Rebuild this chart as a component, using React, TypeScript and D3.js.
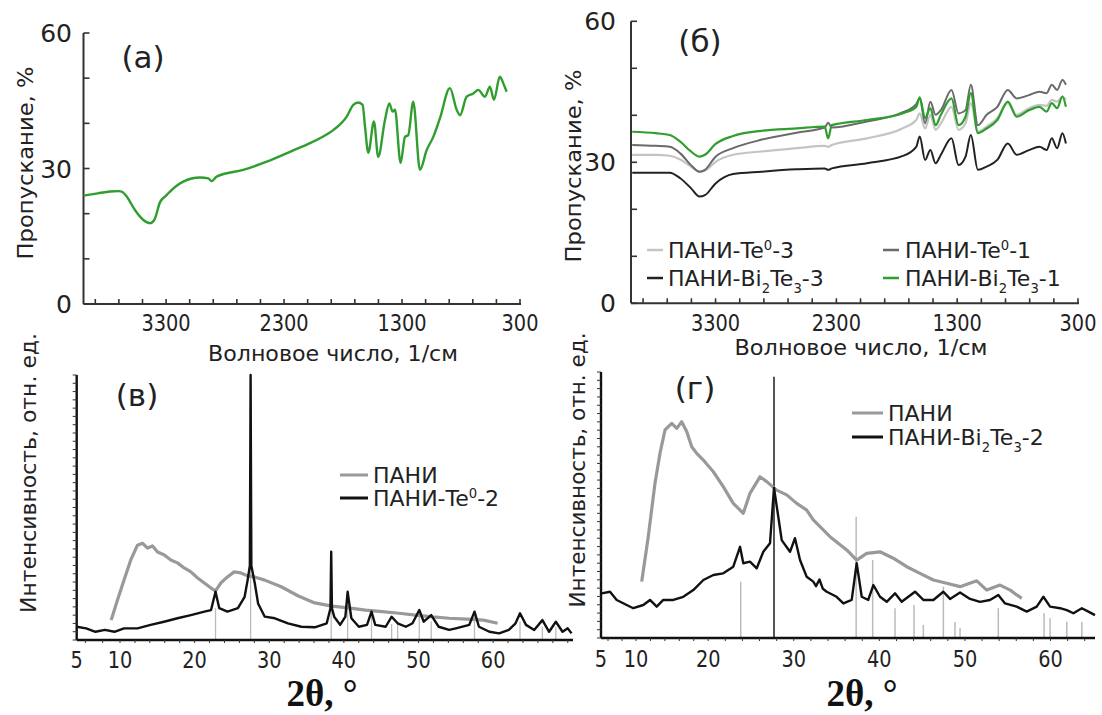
import React from "react";
import * as d3 from "d3";

// ---------------- data: panel (а) ----------------
const waveA = [4000,3880,3775,3700,3676,3634,3564,3493,3436,3400,3352,3300,3267,3154,3013,2942,2914,2871,2646,2447,2222,2080,1996,1883,1769,1713,1671,1634,1614,1586,1538,1502,1445,1408,1380,1360,1312,1275,1247,1205,1148,1091,1035,979,894,837,809,752,696,654,597,555,521,471,436,413];
const transPani = [24.0,24.5,24.9,25.0,24.9,23.8,20.8,18.6,17.9,18.6,22.5,24.0,24.9,27.1,28.0,27.8,27.2,28.2,29.7,31.5,34.0,35.6,36.7,38.5,41.5,44.1,44.6,44.1,39.3,33.5,40.4,32.6,40.7,44.4,42.6,43.0,31.2,37.0,37.4,44.8,29.7,34.1,37.0,41.1,47.8,43.0,41.8,45.9,46.6,47.4,45.9,48.1,45.2,50.3,48.5,47.0];

// ---------------- data: panel (б) ----------------
const waveB = [3990,3796,3679,3592,3504,3432,3388,3300,3155,2921,2630,2397,2368,2338,2047,1755,1639,1610,1566,1522,1479,1435,1347,1289,1231,1187,1129,1056,968,881,808,706,618,560,517,473,429,400];
const transTe3 = [31.6,31.6,31.4,30.6,29.1,28.0,28.2,30.1,31.6,32.3,33.0,33.5,33.3,33.7,35.1,37.2,39.0,40.4,37.2,40.1,36.9,38.3,41.8,36.9,38.3,42.6,36.5,37.6,39.4,42.6,40.1,41.5,42.2,42.0,43.3,42.9,44.0,43.3];
const transTe1 = [33.7,33.5,33.3,31.9,29.4,28.0,28.4,31.2,33.0,34.8,36.3,37.4,38.4,37.4,38.7,40.6,42.4,43.6,38.3,42.9,40.1,41.1,45.4,40.4,41.1,46.5,37.9,40.1,41.8,45.4,43.6,44.3,45.0,44.7,46.5,45.4,47.5,46.5];
const transBi3 = [27.8,27.8,27.8,26.6,24.5,22.7,23.0,25.5,27.5,28.0,28.5,28.7,28.4,28.7,29.8,31.3,33.3,35.5,30.5,32.6,29.8,31.6,35.1,29.4,31.2,35.8,28.4,29.1,30.5,34.0,31.6,32.6,33.3,32.6,35.1,33.0,36.2,34.0];
const transBi1 = [36.5,36.2,35.8,34.4,32.3,31.2,31.6,33.9,35.6,36.7,37.2,37.6,35.1,37.9,39.0,40.4,41.8,43.8,39.4,41.5,37.9,40.1,43.6,37.9,39.7,44.7,36.2,37.2,39.0,42.9,39.7,41.1,41.8,40.8,42.6,41.5,44.0,41.8];

const wnTicks = [3300, 2300, 1300, 300];
const transTicks = [0, 30, 60];

// ---------------- data: panel (в) ----------------
const thetaPaniV = [8.98,9.71,10.54,11.44,12.34,13.02,13.69,14.36,15.04,15.94,16.8,17.7,18.6,19.5,20.4,21.3,22.2,22.8,23.5,24.4,25.3,26.2,27.1,28.0,29.4,31.6,33.9,36.1,38.4,40.6,42.9,45.1,47.4,49.6,51.9,54.1,56.5,58.7,60.6];
const intPaniV = [7.5,15.1,22.6,30.2,35.8,36.5,34.7,35.5,33.2,32.1,30.2,29.1,27.2,25.7,23.4,21.5,19.6,18.5,21.5,23.8,25.7,25.3,24.2,23.8,22.6,20.1,16.6,14.0,12.8,12.1,11.3,10.7,10.1,9.4,8.7,8.2,7.9,7.5,6.3];
const thetaTeV = [5,6.09,7.17,8.26,9.35,10.54,12.34,14.1,15.9,17.7,19.5,21.3,22.2,22.8,23.3,24.4,25.8,26.7,27.1,27.4,27.5,27.6,28.06,28.5,29.4,30.75,32.5,34.3,36.1,37.7,38.2,38.3,38.4,38.7,39.5,40.2,40.5,41.0,42.0,43.1,43.7,44.2,45.6,46.4,47.2,48.3,49.2,50.1,50.7,51.7,52.7,54.1,55.0,56.8,57.5,58.1,59.5,60.8,62.1,63.0,63.6,64.4,65.5,66.6,67.5,68.4,69.3,70.0,70.5];
const intTeV = [5.0,4.4,3.1,3.8,3.1,4.4,4.4,5.7,6.9,8.2,9.4,10.7,11.3,18.2,12.0,10.7,12.0,16.3,22.6,28,100,28,21.4,13.8,8.8,8.2,6.3,5.0,4.8,6.3,12,33.3,12,8.8,5.7,8.8,18.2,8.2,5.0,5.7,10.7,5.7,5.0,8.8,6.3,5.0,6.3,11.3,6.9,9.4,5.0,3.8,4.4,5.7,10.7,5.0,3.1,2.5,3.8,6.3,10.1,5.7,3.8,7.5,3.1,6.9,3.1,4.4,2.5];
const stickThetaV = [22.8,27.5,38.3,40.5,43.7,46.4,47.2,50.1,51.7,57.5,63.6,66.6,68.4];
const stickIntV = [12,98,30,14,9,6,6,9,7,9,7,5,5];

// ---------------- data: panel (г) ----------------
const thetaPaniG = [10.79,11.70,12.63,13.32,14.02,14.95,15.64,16.33,17.02,17.72,18.41,19.32,20.60,21.76,22.93,24.10,24.88,26.05,26.84,28.0,29.17,30.34,31.51,32.28,34.23,36.19,37.35,38.52,40.08,41.63,43.20,44.75,46.31,47.87,49.43,51.38,52.55,54.1,55.3,56.05,56.64];
const intPaniG = [21.2,38.1,58.2,69.4,78.2,80.7,78.8,81.3,77.6,71.9,69.4,66.9,62.5,56.9,50.6,46.9,54.4,60.6,58.8,55.6,53.8,50.6,48.1,44.4,38.1,33.1,29.3,31.8,32.4,30.0,26.8,24.3,21.8,20.6,19.3,21.5,18.0,19.9,18.0,16.2,14.9];
const thetaBiG = [5.1,6.29,7.24,8.67,9.61,11.01,11.94,12.87,13.78,15.17,16.55,17.94,19.33,20.6,21.76,22.93,23.72,24.1,24.88,25.67,26.44,27.22,27.69,28.19,28.59,29.56,30.14,30.73,31.51,32.28,32.6,33.0,33.4,33.85,35.0,35.8,36.77,37.35,37.94,38.7,39.3,40.08,40.86,41.83,42.61,44.17,45.14,46.31,47.48,48.26,49.43,50.6,51.76,52.93,53.9,54.69,56.05,57.22,58.39,59.17,59.95,61.12,61.9,62.68,63.66,64.43,65.2];
const intBiG = [16.8,17.4,14.3,12.4,11.2,12.4,14.3,11.8,14.3,14.3,15.5,18.0,21.8,23.7,24.3,26.8,34.3,28.1,28.7,26.2,32.4,35.6,56.4,45.6,36.8,32.4,37.5,29.3,23.0,21.2,19.5,22.0,18.5,17.4,15.5,13.0,14.3,28.1,15.5,14.3,19.9,15.5,13.6,16.8,13.6,17.4,14.3,14.3,17.4,14.7,17.1,14.7,13.6,14.3,16.2,13.0,11.8,9.9,11.8,15.5,11.8,11.2,10.5,9.3,11.2,9.9,8.6];
const stickThetaG = [23.8,27.69,37.29,39.22,41.83,44.05,45.14,47.48,48.84,49.43,53.9,59.25,59.95,61.9,63.66];
const stickIntG = [21.2,98.2,45.6,29.3,11.2,12.4,4.9,19.3,6.0,3.8,11.2,9.3,7.4,6.1,6.1];

const thetaTicks = [5, 10, 20, 30, 40, 50, 60];

// ---------------- styling ----------------
const FONT = "'DejaVu Sans', Verdana, sans-serif";
const SERIF = "'Liberation Serif', 'Times New Roman', serif";
const INK = "#222";
const AX = "#333";
const GREEN = "#2f9e2f";

type Part = { t: string; sub?: boolean; sup?: boolean };

function Rich({ parts, x, y, size }: { parts: Part[]; x: number; y: number; size: number }) {
  let shift = 0;
  const small = size * 0.6;
  return (
    <text x={x} y={y + size * 0.36} fontSize={size} fontFamily={FONT} fill={INK}>
      {parts.map((p, i) => {
        const target = p.sub ? size * 0.3 : p.sup ? -size * 0.38 : 0;
        const dy = target - shift;
        shift = target;
        return (
          <tspan key={i} dy={dy} fontSize={p.sub || p.sup ? small : size}>
            {p.t}
          </tspan>
        );
      })}
    </text>
  );
}

function VText({ cx, cy, size, len, children }: any) {
  return (
    <text transform={`translate(${cx},${cy}) rotate(-90)`} y={size * 0.36} textAnchor="middle"
      fontSize={size} fontFamily={FONT} fill={INK} textLength={len} lengthAdjust="spacingAndGlyphs">
      {children}
    </text>
  );
}

function IrAxes({ x, y, labelRight, xLabelY }: any) {
  const r = x.range();
  const x0 = r[0];
  const x1 = r[r.length - 1];
  const y0 = y(0);
  const minor = d3.range(3900, 299, -200);
  return (
    <g>
      <line x1={x0} y1={y(60)} x2={x0} y2={y0} stroke={AX} strokeWidth={2} />
      <line x1={x0} y1={y0} x2={x1 + 1} y2={y0} stroke={AX} strokeWidth={2} />
      {d3.range(0, 61, 10).map((v) => (
        <line key={"yt" + v} x1={x0} x2={x0 + 6} y1={y(v)} y2={y(v)} stroke={AX} strokeWidth={1.6} />
      ))}
      {minor.map((w) => (
        <line key={"xt" + w} x1={x(w)} x2={x(w)} y1={y0} y2={y0 - 5} stroke={AX} strokeWidth={1.6} />
      ))}
      {transTicks.map((v) => (
        <text key={"yl" + v} x={labelRight} y={y(v) + 9} textAnchor="end" fontSize={25} fontFamily={FONT} fill={INK}>
          {v}
        </text>
      ))}
      {wnTicks.map((w) => (
        <text key={"xl" + w} x={x(w)} y={xLabelY + 8} textAnchor="middle" fontSize={23} fontFamily={FONT} fill={INK}
          textLength={String(w).length * 12.3} lengthAdjust="spacingAndGlyphs">
          {w}
        </text>
      ))}
    </g>
  );
}

function XrdAxes({ x, y, labelY }: any) {
  const r = x.range();
  const x0 = r[0];
  const x1 = r[r.length - 1];
  const y0 = y(0);
  const yTop = y(100);
  const dom = x.domain();
  const xt = d3.range(6, dom[dom.length - 1], 2);
  return (
    <g>
      <line x1={x0} y1={yTop} x2={x0} y2={y0} stroke="#111" strokeWidth={2.4} />
      <line x1={x0} y1={y0} x2={x1} y2={y0} stroke="#111" strokeWidth={2.6} />
      {d3.range(0, 100.01, 100 / 32).map((v, i) => (
        <line key={"yt" + i} x1={x0 - 4} x2={x0} y1={y(v)} y2={y(v)} stroke="#333" strokeWidth={1} />
      ))}
      {xt.map((v) => (
        <line key={"xt" + v} x1={x(v)} x2={x(v)} y1={y0} y2={y0 + 3} stroke="#333" strokeWidth={1} />
      ))}
      {thetaTicks.map((v) => (
        <text key={"xl" + v} x={x(v)} y={labelY + 8} textAnchor="middle" fontSize={23} fontFamily={FONT} fill={INK}
          textLength={String(v).length * 12.3} lengthAdjust="spacingAndGlyphs">
          {v}
        </text>
      ))}
    </g>
  );
}

export default function App() {
  const xA = d3.scaleLinear().domain([4000, 300]).range([83.5, 520]);
  const yA = d3.scaleLinear().domain([0, 60]).range([304, 33]);
  const xB = d3.scaleLinear().domain([4000, 300]).range([631, 1078]);
  const yB = d3.scaleLinear().domain([0, 60]).range([303.3, 21.3]);
  const xV = d3.scaleLinear().domain([5, 10, 70.7]).range([76.7, 120, 573]);
  const yV = d3.scaleLinear().domain([0, 100]).range([640, 375]);
  const xG = d3.scaleLinear().domain([5, 10, 20, 65.2]).range([601, 636, 708.2, 1095]);
  const yG = d3.scaleLinear().domain([0, 100]).range([638, 372]);

  const irPath = (xs: number[], ys: number[], sx: any, sy: any) =>
    d3.line<number>().x((_, i) => sx(xs[i])).y((d) => sy(d)).curve(d3.curveMonotoneX)(ys) || "";
  const linPath = (xs: number[], ys: number[], sx: any, sy: any) =>
    d3.line<number>().x((_, i) => sx(xs[i])).y((d) => sy(d))(ys) || "";

  const bSeries = [
    { v: transBi3, c: "#222", w: 2 },
    { v: transTe3, c: "#c4c4c4", w: 2.2 },
    { v: transTe1, c: "#6a6a6a", w: 2 },
    { v: transBi1, c: GREEN, w: 2.2 },
  ];

  return (
    <svg width={1102} height={715} style={{ position: "absolute", left: 0, top: 0, background: "#fff" }}
      fontFamily={FONT}>
      <rect width={1102} height={715} fill="#fff" />

      {/* ---------- panel (а) ---------- */}
      <IrAxes x={xA} y={yA} labelRight={72} xLabelY={323} />
      <path d={irPath(waveA, transPani, xA, yA)} fill="none" stroke={GREEN} strokeWidth={2.4} />
      <text x={143} y={68} textAnchor="middle" fontSize={31} fill={INK}>(а)</text>
      <VText cx={25} cy={163} size={22} len={193}>Пропускание, %</VText>
      <text x={333} y={361} textAnchor="middle" fontSize={21} fill={INK} textLength={250} lengthAdjust="spacingAndGlyphs">
        Волновое число, 1/см
      </text>

      {/* ---------- panel (б) ---------- */}
      <IrAxes x={xB} y={yB} labelRight={616} xLabelY={323} />
      {bSeries.map((s, i) => (
        <path key={i} d={irPath(waveB, s.v, xB, yB)} fill="none" stroke={s.c} strokeWidth={s.w} />
      ))}
      <text x={700} y={52} textAnchor="middle" fontSize={31} fill={INK}>(б)</text>
      <VText cx={573} cy={166} size={22} len={193}>Пропускание, %</VText>
      <text x={861} y={355} textAnchor="middle" fontSize={21} fill={INK} textLength={253} lengthAdjust="spacingAndGlyphs">
        Волновое число, 1/см
      </text>
      {/* legend (б) */}
      <line x1={647} x2={663} y1={250} y2={250} stroke="#c4c4c4" strokeWidth={2.5} />
      <Rich x={668} y={250} size={22} parts={[{ t: "ПАНИ-Te" }, { t: "0", sup: true }, { t: "-3" }]} />
      <line x1={647} x2={663} y1={278} y2={278} stroke="#222" strokeWidth={2.5} />
      <Rich x={668} y={278} size={22} parts={[{ t: "ПАНИ-Bi" }, { t: "2", sub: true }, { t: "Te" }, { t: "3", sub: true }, { t: "-3" }]} />
      <line x1={883} x2={899} y1={250} y2={250} stroke="#6a6a6a" strokeWidth={2.5} />
      <Rich x={905} y={250} size={22} parts={[{ t: "ПАНИ-Te" }, { t: "0", sup: true }, { t: "-1" }]} />
      <line x1={883} x2={899} y1={278} y2={278} stroke={GREEN} strokeWidth={2.5} />
      <Rich x={905} y={278} size={22} parts={[{ t: "ПАНИ-Bi" }, { t: "2", sub: true }, { t: "Te" }, { t: "3", sub: true }, { t: "-1" }]} />

      {/* ---------- panel (в) ---------- */}
      {stickThetaV.map((t, i) => (
        <line key={"sv" + i} x1={xV(t)} x2={xV(t)} y1={yV(0)} y2={yV(stickIntV[i])} stroke="#bbb" strokeWidth={1.3} />
      ))}
      <path d={linPath(thetaPaniV, intPaniV, xV, yV)} fill="none" stroke="#999" strokeWidth={3.2} strokeLinejoin="round" />
      <path d={linPath(thetaTeV, intTeV, xV, yV)} fill="none" stroke="#111" strokeWidth={2.4} strokeLinejoin="round" />
      <XrdAxes x={xV} y={yV} labelY={660} />
      <text x={137} y={406} textAnchor="middle" fontSize={31} fill={INK}>(в)</text>
      <VText cx={28} cy={473} size={22} len={280}>Интенсивность, отн. ед.</VText>
      <text x={322} y={706} textAnchor="middle" fontSize={37} fontWeight="bold" fontFamily={SERIF} fill="#111">2θ, °</text>
      <line x1={340} x2={368} y1={475} y2={475} stroke="#999" strokeWidth={3} />
      <Rich x={373} y={475} size={22} parts={[{ t: "ПАНИ" }]} />
      <line x1={340} x2={368} y1={498} y2={498} stroke="#111" strokeWidth={3} />
      <Rich x={373} y={498} size={22} parts={[{ t: "ПАНИ-Te" }, { t: "0", sup: true }, { t: "-2" }]} />

      {/* ---------- panel (г) ---------- */}
      {stickThetaG.map((t, i) => (
        <line key={"sg" + i} x1={xG(t)} x2={xG(t)} y1={yG(0)} y2={yG(stickIntG[i])}
          stroke={stickIntG[i] > 90 ? "#555" : "#bbb"} strokeWidth={stickIntG[i] > 90 ? 2 : 1.5} />
      ))}
      <path d={linPath(thetaPaniG, intPaniG, xG, yG)} fill="none" stroke="#999" strokeWidth={3.2} strokeLinejoin="round" />
      <path d={linPath(thetaBiG, intBiG, xG, yG)} fill="none" stroke="#111" strokeWidth={2.4} strokeLinejoin="round" />
      <XrdAxes x={xG} y={yG} labelY={659} />
      <text x={695} y={399} textAnchor="middle" fontSize={31} fill={INK}>(г)</text>
      <VText cx={577} cy={470} size={22} len={275}>Интенсивность, отн. ед.</VText>
      <text x={862} y={706} textAnchor="middle" fontSize={37} fontWeight="bold" fontFamily={SERIF} fill="#111">2θ, °</text>
      <line x1={852} x2={883} y1={413} y2={413} stroke="#999" strokeWidth={3} />
      <Rich x={888} y={413} size={22} parts={[{ t: "ПАНИ" }]} />
      <line x1={852} x2={883} y1={437} y2={437} stroke="#111" strokeWidth={3} />
      <Rich x={888} y={437} size={22} parts={[{ t: "ПАНИ-Bi" }, { t: "2", sub: true }, { t: "Te" }, { t: "3", sub: true }, { t: "-2" }]} />
    </svg>
  );
}
